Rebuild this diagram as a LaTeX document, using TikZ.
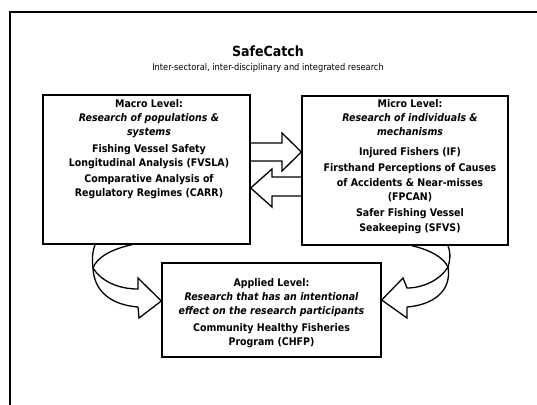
\documentclass[tikz,border=0pt]{standalone}
\usepackage{fontspec}
\setmainfont{DejaVuSansCondensed.ttf}[BoldFont=DejaVuSansCondensed-Bold.ttf,ItalicFont=DejaVuSansCondensed-Oblique.ttf,BoldItalicFont=DejaVuSansCondensed-BoldOblique.ttf]
\begin{document}
\begin{tikzpicture}[x=1pt,y=-1pt,
  frame/.style={line width=2pt},
  levelbox/.style={draw,line width=1.4pt,rectangle,inner sep=0pt},
  blockarrow/.style={draw,line width=1.3pt,line join=miter},
  boxtext/.style={align=center,inner sep=0pt,anchor=north,font=\fontsize{10.5}{14.3}\selectfont\bfseries},
  title/.style={inner sep=0pt,font=\fontsize{14}{16}\selectfont\bfseries},
  subtitle/.style={inner sep=0pt,font=\fontsize{9.2}{11}\selectfont}]
\useasboundingbox (0,0) rectangle (537,404);
\clip (0,0) rectangle (537,404);
\draw[frame] (10,420) -- (10,12) -- (560,12);
% titles
\node[title] (title) at (268,51) {SafeCatch};
\node[subtitle] (subtitle) at (268,68) {Inter-sectoral, inter-disciplinary and integrated research};
% boxes
\node[levelbox,minimum width=207pt,minimum height=149pt] (macro) at (146.5,169.5) {};
\node[levelbox,minimum width=206pt,minimum height=149pt] (micro) at (405,170.5) {};
\node[levelbox,minimum width=219pt,minimum height=94pt] (applied) at (271.5,310) {};
% texts
\node[boxtext] (macrotext) at (149,99) {Macro Level:\\
{\itshape Research of populations \&}\\
{\itshape systems}\\[2pt]
Fishing Vessel Safety\\
Longitudinal Analysis (FVSLA)\\[2pt]
Comparative Analysis of\\
Regulatory Regimes (CARR)};
\node[boxtext] (microtext) at (410,99) {Micro Level:\\
{\itshape Research of individuals \&}\\
{\itshape mechanisms}\\[5.5pt]
Injured Fishers (IF)\\[2pt]
Firsthand Perceptions of Causes\\
of Accidents \& Near-misses\\
(FPCAN)\\[2pt]
Safer Fishing Vessel\\
Seakeeping (SFVS)};
\node[boxtext] (appliedtext) at (271.5,278) {Applied Level:\\
{\itshape Research that has an intentional}\\
{\itshape effect on the research participants}\\[2pt]
Community Healthy Fisheries\\
Program (CHFP)};
% straight block arrows between macro and micro
\coordinate (ra1) at (macro.east |- 0,143);
\coordinate (ra2) at (macro.east |- 0,161);
\coordinate (ratip) at (micro.west |- 0,152);
\draw[blockarrow] (ra1) -- (282,143) -- (282,133) -- (ratip) -- (282,171) -- (282,161) -- (ra2);
\coordinate (la1) at (micro.west |- 0,177);
\coordinate (la2) at (micro.west |- 0,196);
\coordinate (latip) at (macro.east |- 0,188);
\draw[blockarrow] (la1) -- (272,177) -- (272,169) -- (latip) -- (272,207) -- (272,196) -- (la2);
% curved arrow macro -> applied
\coordinate (lc1) at (macro.south -| 95,0);
\coordinate (lc2) at (macro.south -| 132,0);
\coordinate (lctip) at (applied.west |- 0,301);
\coordinate (lturn) at (93,268);
\draw[blockarrow] (lc1) .. controls (92,253) and (92,261) .. (lturn)
  .. controls (94,292) and (112,305) .. (138,307);
\draw[blockarrow] (lc2) .. controls (112,249) and (97,257) .. (lturn);
\draw[blockarrow] (lturn) .. controls (101,281) and (118,289) .. (138,289)
  -- (138,278) -- (lctip) -- (139,318) -- (138,307);
% curved arrow micro -> applied
\coordinate (rc1) at (micro.south -| 412,0);
\coordinate (rc2) at (micro.south -| 448,0);
\coordinate (rctip) at (applied.east |- 0,300);
\coordinate (rturn) at (448,267);
\draw[blockarrow] (rc2) .. controls (451,254) and (450,261) .. (rturn)
  .. controls (452,292) and (432,305) .. (407,307);
\draw[blockarrow] (rc1) .. controls (430,250) and (443,257) .. (rturn);
\draw[blockarrow] (rturn) .. controls (440,280) and (423,288) .. (407,288)
  -- (403,278) -- (rctip) -- (407,318) -- (407,307);
\end{tikzpicture}
\end{document}
